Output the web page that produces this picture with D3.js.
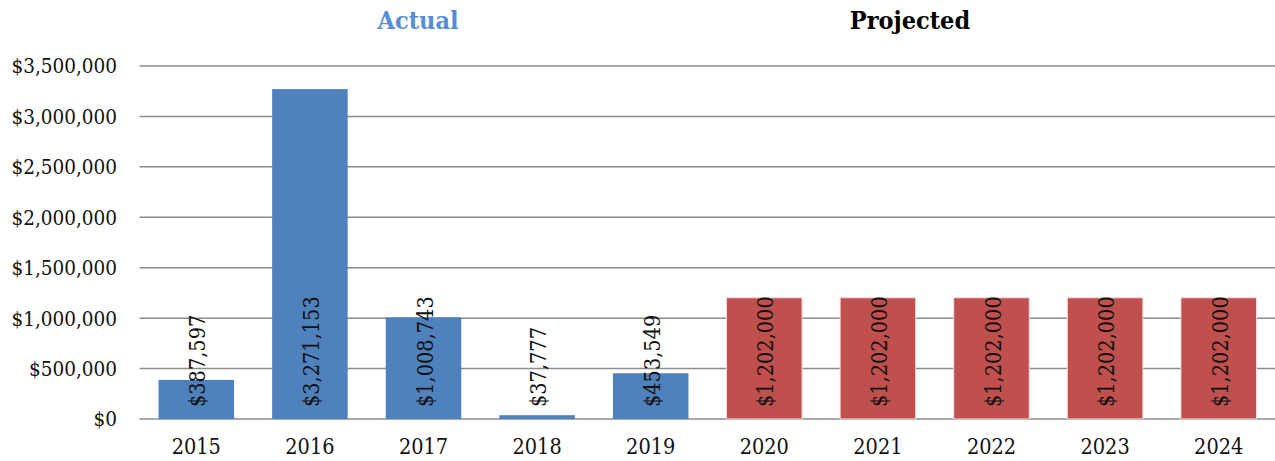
<!DOCTYPE html>
<html lang="en">
<head>
  <meta charset="UTF-8" />
  <title>Actual vs Projected</title>
  <style>
    body {
      margin: 0;
      background: white;
      overflow: hidden;
    }
    svg {
      display: block;
      font-family: "DejaVu Serif Condensed", "DejaVu Serif", serif;
      font-stretch: condensed;
    }
  </style>
</head>
<body>
<svg id="chart"></svg>
<script src="https://d3js.org/d3.v7.min.js"></script>
<script>
const width = 1275;
const height = 461;

// data
const years = ["2015", "2016", "2017", "2018", "2019", "2020", "2021", "2022", "2023", "2024"];
const amounts = [387597, 3271153, 1008743, 37777, 453549, 1202000, 1202000, 1202000, 1202000, 1202000];
const kinds = ["Actual", "Actual", "Actual", "Actual", "Actual", "Projected", "Projected", "Projected", "Projected", "Projected"];
const yTicks = [0, 500000, 1000000, 1500000, 2000000, 2500000, 3000000, 3500000];

const colors = { Actual: "#4F81BD", Projected: "#C0504D" };

const svg = d3.select("#chart")
  .attr("width", width)
  .attr("height", height);

const x = d3.scaleBand()
  .domain(years)
  .range([139.5, 1275.5])
  .paddingInner(0.335)
  .paddingOuter(0.1675);

const y = d3.scaleLinear()
  .domain([0, 3500000])
  .range([419, 66]);

const money = d3.format("$,");

// gridlines
svg.append("g")
  .selectAll("line")
  .data(yTicks)
  .join("line")
  .attr("x1", 139.5)
  .attr("x2", 1275)
  .attr("y1", d => y(d))
  .attr("y2", d => y(d))
  .attr("stroke", "#8c8c8c")
  .attr("stroke-width", 1.5);

// y axis labels
svg.append("g")
  .selectAll("text")
  .data(yTicks)
  .join("text")
  .attr("x", 117)
  .attr("y", d => y(d))
  .attr("dy", "0.36em")
  .attr("text-anchor", "end")
  .attr("font-size", 20.5)
  .attr("fill", "#111")
  .text(d => money(d));

const rows = years.map((yr, i) => ({ year: yr, value: amounts[i], kind: kinds[i] }));

// bars
svg.append("g")
  .selectAll("rect")
  .data(rows)
  .join("rect")
  .attr("x", d => x(d.year))
  .attr("width", x.bandwidth())
  .attr("y", d => y(d.value))
  .attr("height", d => y(0) - y(d.value))
  .attr("fill", d => colors[d.kind])
  .attr("stroke", d => d.kind === "Projected" ? "#f2dcdb" : "none")
  .attr("stroke-width", 1);

// value labels, rotated
svg.append("g")
  .selectAll("text")
  .data(rows)
  .join("text")
  .attr("transform", d => `translate(${x(d.year) + x.bandwidth() / 2 + 9},407) rotate(-90)`)
  .attr("text-anchor", "start")
  .attr("font-size", 21.5)
  .attr("fill", "#111")
  .text(d => money(d.value));

// x labels
svg.append("g")
  .selectAll("text")
  .data(years)
  .join("text")
  .attr("x", d => x(d) + x.bandwidth() / 2)
  .attr("y", 454)
  .attr("text-anchor", "middle")
  .attr("font-size", 21.5)
  .attr("fill", "#111")
  .text(d => d);

// section headings
svg.append("text")
  .attr("x", 418)
  .attr("y", 29)
  .attr("text-anchor", "middle")
  .attr("font-size", 25)
  .attr("font-weight", "bold")
  .attr("fill", "#558ED5")
  .text("Actual");

svg.append("text")
  .attr("x", 910)
  .attr("y", 29)
  .attr("text-anchor", "middle")
  .attr("font-size", 25)
  .attr("font-weight", "bold")
  .attr("fill", "#000")
  .text("Projected");
</script>
</body>
</html>
